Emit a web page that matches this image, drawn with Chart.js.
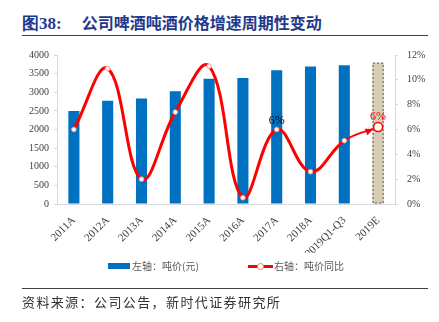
<!DOCTYPE html>
<html><head><meta charset="utf-8">
<script src="https://cdn.jsdelivr.net/npm/chart.js@4/dist/chart.umd.min.js"></script>
<style>
html,body{margin:0;padding:0;background:#fff;width:439px;height:322px;overflow:hidden;position:relative;}
#title{position:absolute;left:22px;top:12px;font-family:"Noto Sans CJK SC",sans-serif;font-weight:bold;font-size:16px;color:#1f3a8c;white-space:nowrap;line-height:20px;}
#title .num{font-family:"Liberation Serif",serif;font-size:17px;margin-right:20px;}
#tline{position:absolute;left:22px;top:35px;width:406px;height:1px;background:#404040;}
#bline{position:absolute;left:22px;top:288px;width:406px;height:1px;background:#404040;}
#src{position:absolute;left:22px;top:293px;font-family:"Noto Sans CJK SC",sans-serif;font-size:13px;letter-spacing:1.4px;color:#333;white-space:nowrap;line-height:18px;}
#wrap{position:absolute;left:0;top:40px;width:439px;height:240px;}
.leg{position:absolute;top:258px;height:16px;line-height:16px;font-family:"Noto Sans CJK SC",sans-serif;font-size:10px;color:#595959;white-space:nowrap;}
.sw{position:absolute;}
</style></head>
<body>
<div id="title"><span class="num">图38:</span>公司啤酒吨酒价格增速周期性变动</div>
<div id="tline"></div>
<div id="wrap"><canvas id="c" width="439" height="240"></canvas></div>
<div id="legend"></div>
<div id="bline"></div>
<div id="src">资料来源：公司公告，新时代证券研究所</div>
<script>
const categories = ["2011A","2012A","2013A","2014A","2015A","2016A","2017A","2018A","2019Q1-Q3","2019E"];
const tonPrice = [2500, 2770, 2835, 3030, 3360, 3380, 3590, 3690, 3725, 3795];
const tonPriceYoY = [6.0, 10.9, 2.0, 7.4, 11.1, 0.5, 6.0, 2.6, 5.1, 6.2];
const leftTicks = [0, 500, 1000, 1500, 2000, 2500, 3000, 3500, 4000];
const rightTicks = [0, 2, 4, 6, 8, 10, 12];
const seriesNames = ["左轴：吨价(元)", "右轴：吨价同比"];
const labelledPoints = [6, 9];

const BLUE = "#0070C0", RED = "#FF0000", AX = "#d9d9d9", TXT = "#404040";
const serif = "'Liberation Serif','Times New Roman',serif";

// HTML legend
const leg = document.getElementById('legend');
leg.innerHTML =
  '<div class="sw" style="left:108px;top:263px;width:22px;height:6px;background:'+BLUE+'"></div>'+
  '<div class="leg" style="left:132px">'+seriesNames[0]+'</div>'+
  '<div class="sw" style="left:248px;top:264.5px;width:25px;height:3px;background:'+RED+'"></div>'+
  '<div class="sw" style="left:257px;top:263px;width:5px;height:5px;border-radius:50%;background:#fff;border:1px solid #f08060"></div>'+
  '<div class="leg" style="left:274px">'+seriesNames[1]+'</div>';

const last = categories.length-1;

const extras = {
  id:'extras',
  afterDatasetDraw(chart,args){
    if(args.index!==0) return;
    const bar = chart.getDatasetMeta(0).data[last];
    const {x,y,base,width} = bar.getProps(['x','y','base','width'],true);
    const ctx=chart.ctx; ctx.save();
    ctx.strokeStyle="#44546a"; ctx.lineWidth=1; ctx.setLineDash([2,2]);
    ctx.strokeRect(x-width/2+0.5, y+0.5, width-1, base-y-1);
    ctx.restore();
  },
  afterDatasetsDraw(chart){
    const ctx=chart.ctx;
    const pts = chart.getDatasetMeta(1).data;
    const p0=pts[last-1], p1=pts[last];
    const dx=p1.x-p0.x, dy=p1.y-p0.y, L=Math.hypot(dx,dy), ux=dx/L, uy=dy/L;
    const tipx=p1.x-ux*5, tipy=p1.y-uy*5, hl=8, hw=3.5;
    ctx.save(); ctx.fillStyle=RED; ctx.beginPath();
    ctx.moveTo(tipx,tipy);
    ctx.lineTo(tipx-ux*hl-uy*hw, tipy-uy*hl+ux*hw);
    ctx.lineTo(tipx-ux*hl+uy*hw, tipy-uy*hl-ux*hw);
    ctx.closePath(); ctx.fill();
    ctx.fillStyle="#fff"; ctx.strokeStyle=RED; ctx.lineWidth=1.5;
    ctx.beginPath(); ctx.arc(p1.x,p1.y,4.5,0,Math.PI*2); ctx.fill(); ctx.stroke();
    ctx.font="12px "+serif; ctx.textAlign="center"; ctx.textBaseline="bottom";
    labelledPoints.forEach(i=>{
      const p=pts[i];
      ctx.fillStyle = i===last ? RED : "#000";
      ctx.fillText(Math.round(tonPriceYoY[i])+"%", p.x, p.y-(i===last?4:3));
    });
    ctx.restore();
  }
};

new Chart(document.getElementById('c'),{
  data:{
    labels:categories,
    datasets:[
      {type:'bar',label:seriesNames[0],data:tonPrice,yAxisID:'y',order:1,
       backgroundColor:tonPrice.map((v,i)=>i===last?"#d8ccb2":BLUE),
       borderWidth:0,barPercentage:0.4,categoryPercentage:0.82},
      {type:'line',label:seriesNames[1],data:tonPriceYoY,yAxisID:'y1',order:0,
       borderColor:RED,borderWidth:3,tension:0.4,fill:false,
       pointRadius:tonPriceYoY.map((v,i)=>i===last?0:2.3),
       pointBackgroundColor:"#fff",pointBorderColor:"#f4a090",pointBorderWidth:1,
       segment:{borderWidth:c=>c.p1DataIndex===last?1.8:3}}
    ]
  },
  options:{
    responsive:false,animation:false,
    layout:{padding:{top:14,bottom:27,left:0,right:0}},
    plugins:{tooltip:{enabled:false},legend:{display:false}},
    scales:{
      x:{offset:true,grid:{display:false},border:{color:AX},
        ticks:{maxRotation:45,minRotation:45,color:TXT,font:{family:serif,size:11},padding:2},
        afterFit:s=>{s.height=49;}},
      y:{position:'left',min:0,max:4000,
        afterBuildTicks:s=>{s.ticks=leftTicks.map(v=>({value:v}));},
        grid:{display:true,drawOnChartArea:false,tickLength:3,color:AX},border:{color:AX},
        ticks:{color:TXT,font:{family:serif,size:10},padding:5,callback:v=>String(v)},
        afterFit:s=>{s.width=57;}},
      y1:{position:'right',min:0,max:12,
        afterBuildTicks:s=>{s.ticks=rightTicks.map(v=>({value:v}));},
        grid:{display:true,drawOnChartArea:false,tickLength:3,color:AX},border:{color:AX},
        ticks:{color:TXT,font:{family:serif,size:10},padding:9,callback:v=>v+"%"},
        afterFit:s=>{s.width=44;}}
    }
  },
  plugins:[extras]
});
</script>
</body></html>
